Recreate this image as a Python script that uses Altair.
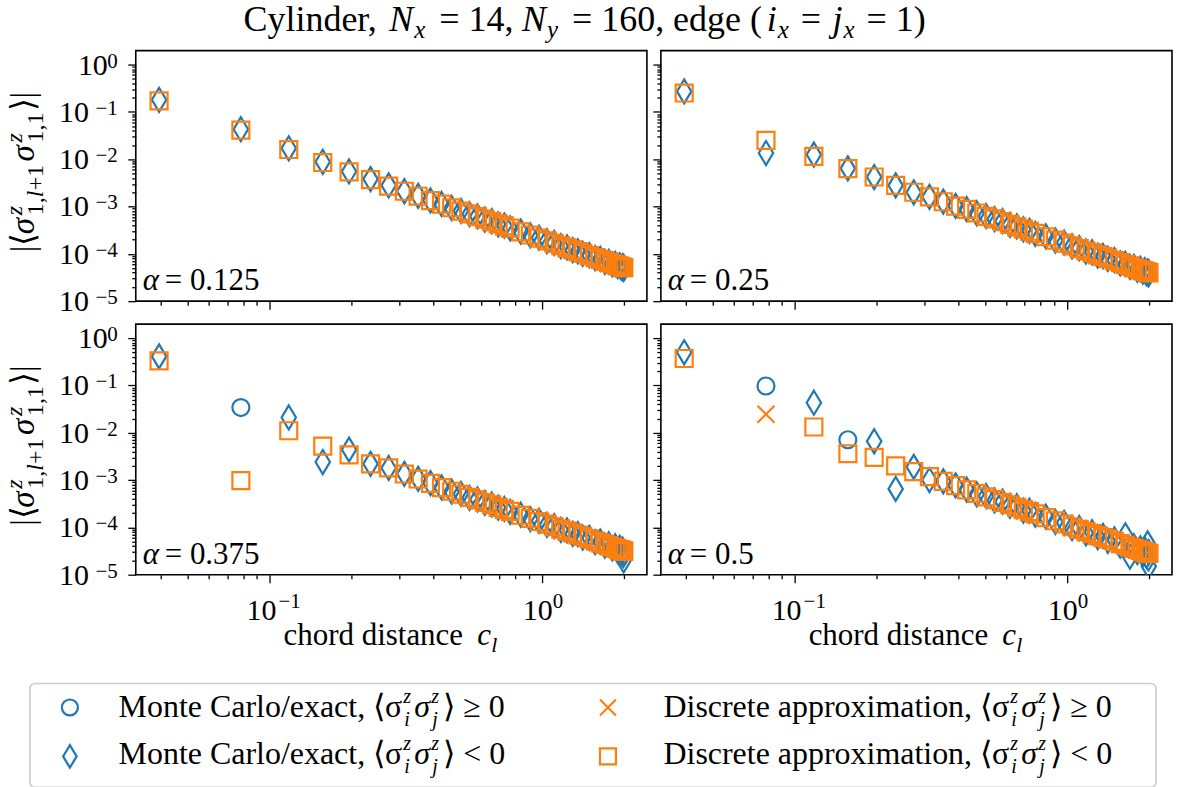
import altair as alt
import pandas as pd

# ---------------- data ----------------
# chord distances c_l (sampled l values)
X = [0.0393, 0.0785, 0.1177, 0.1569, 0.1960, 0.2351, 0.2740, 0.3129, 0.3516, 0.3902,
     0.4286, 0.4669, 0.5050, 0.5429, 0.5806, 0.6180, 0.6553, 0.6922, 0.7289, 0.7654,
     0.8373, 0.9080, 0.9772, 1.0450, 1.1111, 1.1756, 1.2382, 1.2989, 1.3576, 1.4142,
     1.4951, 1.5706, 1.6408, 1.7053, 1.7638, 1.8163, 1.8624, 1.9021, 1.9352, 1.9616,
     1.9812, 1.9938, 1.9996, 2.0]

ALPHAS = ["0.125", "0.25", "0.375", "0.5"]

# signed correlations <s_i s_j>; Monte Carlo / exact
MC1 = [-0.18, -0.043, -0.017, -0.0088, -0.0055, -0.0038, -0.0028, -0.0021, -0.00168, -0.00134,
       -1.13e-3, -9.3e-4, -8.1e-4, -6.9e-4, -6.2e-4, -5.3e-4, -4.9e-4, -4.2e-4, -3.95e-4, -3.45e-4,
       -2.95e-4, -2.45e-4, -2.2e-4, -1.85e-4, -1.7e-4, -1.45e-4, -1.37e-4, -1.2e-4, -1.13e-4, -1.0e-4,
       -9.4e-5, -8.1e-5, -7.8e-5, -6.8e-5, -6.8e-5, -6.0e-5, -6.1e-5, -5.5e-5, -5.7e-5, -5.1e-5,
       -5.4e-5, -4.9e-5, -5.3e-5, -4.8e-5]
MC2 = [-0.27, -0.0135, -0.0125, -0.0064, -0.0042, -0.0028, -0.0020, -0.0016, -0.00127, -0.00103,
       -8.8e-4, -7.2e-4, -6.3e-4, -5.4e-4, -4.9e-4, -4.1e-4, -3.8e-4, -3.3e-4, -3.05e-4, -2.65e-4,
       -2.35e-4, -1.9e-4, -1.72e-4, -1.44e-4, -1.32e-4, -1.12e-4, -1.08e-4, -9.2e-5, -9.0e-5, -7.8e-5,
       -7.4e-5, -6.3e-5, -6.1e-5, -5.3e-5, -5.3e-5, -4.6e-5, -4.8e-5, -4.2e-5, -4.5e-5, -3.9e-5,
       -4.2e-5, -3.7e-5, -4.1e-5, -3.8e-5]
MC3 = [-0.41, 0.034, -0.021, -0.0024, -0.0044, -0.0022, -0.0018, -0.00135, -0.00106, -0.00086,
       -7.0e-4, -5.7e-4, -5.1e-4, -4.2e-4, -3.9e-4, -3.3e-4, -3.05e-4, -2.6e-4, -2.45e-4, -2.12e-4,
       -1.85e-4, -1.5e-4, -1.37e-4, -1.13e-4, -1.06e-4, -8.9e-5, -8.6e-5, -7.3e-5, -7.2e-5, -6.1e-5,
       -6.0e-5, -4.9e-5, -5.0e-5, -4.1e-5, -4.4e-5, -3.6e-5, -4.0e-5, -3.2e-5, -3.7e-5, -2.9e-5,
       -3.4e-5, -2.6e-5, -2.8e-5, -2.0e-5]
MC4 = [-0.5, 0.097, -0.043, 0.0071, -0.0066, -0.00065, -0.0019, -0.0010, -0.00094, -0.00077,
       -6.3e-4, -5.0e-4, -4.6e-4, -3.7e-4, -3.5e-4, -2.85e-4, -2.8e-4, -2.25e-4, -2.25e-4, -1.85e-4,
       -1.68e-4, -1.3e-4, -1.25e-4, -9.6e-5, -9.7e-5, -7.5e-5, -7.9e-5, -6.2e-5, -6.6e-5, -5.2e-5,
       -5.6e-5, -4.1e-5, -6.8e-5, -2.4e-5, -4.0e-5, -3.0e-5, -3.6e-5, -2.7e-5, -3.4e-5, -2.5e-5,
       -4.6e-5, -2.2e-5, -3.0e-5, -1.5e-5]

# discrete approximation
D1 = [-0.17, -0.041, -0.016, -0.0085, -0.0054, -0.0037, -0.0027, -0.0021, -0.00165, -0.00133,
      -1.12e-3, -9.4e-4, -8.0e-4, -7.0e-4, -6.1e-4, -5.4e-4, -4.8e-4, -4.3e-4, -3.9e-4, -3.5e-4,
      -2.9e-4, -2.5e-4, -2.15e-4, -1.88e-4, -1.66e-4, -1.48e-4, -1.34e-4, -1.22e-4, -1.11e-4, -1.03e-4,
      -9.2e-5, -8.3e-5, -7.6e-5, -7.0e-5, -6.6e-5, -6.2e-5, -5.9e-5, -5.7e-5, -5.5e-5, -5.3e-5,
      -5.2e-5, -5.15e-5, -5.1e-5, -5.1e-5]
D2 = [-0.25, -0.025, -0.0115, -0.0063, -0.0042, -0.0028, -0.0020, -0.0016, -0.00126, -0.00102,
      -8.7e-4, -7.3e-4, -6.2e-4, -5.5e-4, -4.8e-4, -4.2e-4, -3.7e-4, -3.35e-4, -3.0e-4, -2.7e-4,
      -2.3e-4, -1.95e-4, -1.68e-4, -1.47e-4, -1.29e-4, -1.15e-4, -1.05e-4, -9.5e-5, -8.7e-5, -8.0e-5,
      -7.2e-5, -6.5e-5, -5.9e-5, -5.5e-5, -5.1e-5, -4.8e-5, -4.6e-5, -4.45e-5, -4.3e-5, -4.15e-5,
      -4.05e-5, -4.0e-5, -4.0e-5, -4.0e-5]
D3 = [-0.33, -0.00097, -0.011, -0.0052, -0.0034, -0.0022, -0.0018, -0.00134, -0.00105, -0.00085,
      -6.9e-4, -5.8e-4, -5.0e-4, -4.3e-4, -3.8e-4, -3.35e-4, -3.0e-4, -2.65e-4, -2.4e-4, -2.17e-4,
      -1.8e-4, -1.55e-4, -1.33e-4, -1.17e-4, -1.03e-4, -9.2e-5, -8.3e-5, -7.6e-5, -6.9e-5, -6.4e-5,
      -5.7e-5, -5.15e-5, -4.7e-5, -4.35e-5, -4.1e-5, -3.85e-5, -3.65e-5, -3.5e-5, -3.4e-5, -3.3e-5,
      -3.22e-5, -3.2e-5, -3.16e-5, -3.16e-5]
D4 = [-0.37, 0.0245, -0.0132, -0.0036, -0.0030, -0.0020, -0.0015, -0.00118, -0.00094, -0.00076,
      -6.2e-4, -5.2e-4, -4.4e-4, -3.85e-4, -3.35e-4, -3.0e-4, -2.65e-4, -2.37e-4, -2.15e-4, -1.93e-4,
      -1.6e-4, -1.38e-4, -1.18e-4, -1.03e-4, -9.1e-5, -8.1e-5, -7.4e-5, -6.7e-5, -6.1e-5, -5.7e-5,
      -5.05e-5, -4.55e-5, -4.2e-5, -3.85e-5, -3.6e-5, -3.4e-5, -3.25e-5, -3.1e-5, -3.0e-5, -2.9e-5,
      -2.85e-5, -2.82e-5, -2.8e-5, -2.8e-5]

MC = [MC1, MC2, MC3, MC4]
DISC = [D1, D2, D3, D4]

CAT_MCP = "Monte Carlo/exact, <σσ> ≥ 0"
CAT_MCN = "Monte Carlo/exact, <σσ> < 0"
CAT_DP = "Discrete approximation, <σσ> ≥ 0"
CAT_DN = "Discrete approximation, <σσ> < 0"
CATS = [CAT_MCP, CAT_MCN, CAT_DP, CAT_DN]

# legend label pieces (column head, relation)
LEG_HEADS = ["Monte Carlo/exact, ⟨σ", "Discrete approximation, ⟨σ"]
LEG_RELS = ["⟩ ≥ 0", "⟩ < 0"]

# tick labels (decades): value and exponent text
Y_DEC = [1.0, 0.1, 0.01, 0.001, 0.0001, 0.00001]
Y_EXP = ["0", "−1", "−2", "−3", "−4", "−5"]
X_DEC = [0.1, 1.0]
X_EXP = ["−1", "0"]

# ---------------- styling ----------------
BLUE = "#1f77b4"
ORANGE = "#ff7f0e"
FONT = "Liberation Serif"
W, H = 512, 251
XDOM = [0.03227, 2.4343]
YDOM = [1e-5, 1.97]

THIN_DIAMOND = "M0,-1.414L0.849,0L0,1.414L-0.849,0Z"
XMARK = "M-1,-1L1,1M-1,1L1,-1"

rows = []
for p in range(4):
    for x, v in zip(X, MC[p]):
        rows.append({"panel": p, "x": x, "y": abs(v), "cat": CAT_MCP if v >= 0 else CAT_MCN})
    for x, v in zip(X, DISC[p]):
        rows.append({"panel": p, "x": x, "y": abs(v), "cat": CAT_DP if v >= 0 else CAT_DN})
df = pd.DataFrame(rows)
DUMMY = pd.DataFrame({"d": [0]})
ylab = pd.DataFrame({"y": Y_DEC, "e": Y_EXP})
xlab = pd.DataFrame({"x": X_DEC, "e": X_EXP})

XTICKS = [0.04, 0.05, 0.06, 0.07, 0.08, 0.09, 0.1, 0.2, 0.3, 0.4, 0.5, 0.6, 0.7, 0.8, 0.9, 1.0, 2.0]
YTICKS = [float(f"{k}e{e}") for e in range(-5, 1) for k in range(1, 10) if float(f"{k}e{e}") <= 1.0]

LG = "round(log(datum.value)/LN10)"
ISDEC = f"abs(log(datum.value)/LN10 - {LG}) < 0.001"
TICKSIZE = {"condition": {"test": ISDEC, "value": 8}, "value": 4}

XSCALE = alt.Scale(type="log", domain=XDOM, nice=False)
YSCALE = alt.Scale(type="log", domain=YDOM, nice=False)
XAXIS = alt.Axis(values=XTICKS, labels=False, tickSize=TICKSIZE, tickColor="black", tickWidth=1.3,
                 domain=False, grid=False, title=None)
YAXIS = alt.Axis(values=YTICKS, labels=False, tickSize=TICKSIZE, tickColor="black", tickWidth=1.3,
                 domain=False, grid=False, title=None)

LEG = alt.Legend(
    title=None, orient="none", legendX=-106, legendY=632, columns=2, gridAlign="each",
    labelExpr="''", labelFontSize=32,
    symbolSize=256, symbolStrokeWidth=2.2, labelOffset=37, columnPadding=456,
    rowPadding=17, padding=10, symbolOffset=14,
)


def seg(txt, x, y, size=31, italic=False, angle=0, align="left"):
    return alt.Chart(DUMMY).mark_text(
        text=txt, font=FONT, fontSize=size, fontStyle="italic" if italic else "normal",
        angle=angle, align=align, baseline="alphabetic", color="black",
    ).encode(x=alt.value(x), y=alt.value(y))


def ylabels():
    out = []
    for sel, x10 in ((ylab.e == "0", -28), (ylab.e != "0", -47)):
        d = ylab[sel]
        out.append(alt.Chart(d).mark_text(text="10", font=FONT, fontSize=30, align="right",
                                          baseline="alphabetic", dy=10, color="black").encode(
            y=alt.Y("y:Q", scale=YSCALE, axis=YAXIS), x=alt.value(x10)))
    out.append(alt.Chart(ylab).mark_text(font=FONT, fontSize=21, align="right",
                                         baseline="alphabetic", dy=3, color="black").encode(
        y=alt.Y("y:Q", scale=YSCALE, axis=YAXIS), x=alt.value(-18), text="e:N"))
    return out


def xlabels():
    out = []
    for sel, dx10, dxe in ((xlab.e == "0", 11, 11), (xlab.e != "0", 7, 9)):
        d = xlab[sel]
        out.append(alt.Chart(d).mark_text(text="10", font=FONT, fontSize=30, align="right",
                                          baseline="alphabetic", dx=dx10, color="black").encode(
            x=alt.X("x:Q", scale=XSCALE, axis=XAXIS), y=alt.value(H + 45)))
        out.append(alt.Chart(d).mark_text(font=FONT, fontSize=21, align="left",
                                          baseline="alphabetic", dx=dxe, color="black").encode(
            x=alt.X("x:Q", scale=XSCALE, axis=XAXIS), y=alt.value(H + 33), text="e:N"))
    return out


def panel(p, extra):
    sub = df[df.panel == p]
    pts = alt.Chart(sub).mark_point(filled=False, strokeWidth=2.2, opacity=1, clip=True).encode(
        x=alt.X("x:Q", scale=XSCALE, axis=XAXIS),
        y=alt.Y("y:Q", scale=YSCALE, axis=YAXIS),
        color=alt.Color("cat:N", scale=alt.Scale(domain=CATS, range=[BLUE, BLUE, ORANGE, ORANGE]), legend=LEG),
        shape=alt.Shape("cat:N", scale=alt.Scale(domain=CATS, range=["circle", THIN_DIAMOND, XMARK, "square"]), legend=LEG),
        size=alt.value(289),
    )
    layers = [pts,
              seg("α", 7, 240, italic=True),
              seg("= " + ALPHAS[p], 29, 240)]
    layers += extra
    return alt.layer(*layers).properties(width=W, height=H)


def ytitle():
    m, s = 33, 24
    return [
        seg("|⟨", -102, 202, size=m, angle=270),
        seg("σ", -102, 184, size=m, italic=True, angle=270),
        seg("z", -114, 165, size=s, italic=True, angle=270),
        seg("1,", -93, 165, size=s, angle=270),
        seg("l", -93, 147, size=s, italic=True, angle=270),
        seg("+1", -93, 140, size=s, angle=270),
        seg("σ", -102, 111, size=m, italic=True, angle=270),
        seg("z", -114, 92, size=s, italic=True, angle=270),
        seg("1,1", -93, 92, size=s, angle=270),
        seg("⟩|", -102, 61, size=m, angle=270),
    ]


def xtitle():
    return [
        seg("chord distance", 148, 321),
        seg("c", 342, 321, italic=True),
        seg("l", 356, 328, size=22, italic=True),
    ]


def legend_labels():
    out = []
    LS, SS = 32, 20
    for col, xe in ((0, 267), (1, 875)):
        for row, base in ((0, 668), (1, 715)):
            out += [
                seg(LEG_HEADS[col], xe, base, size=LS, align="right"),
                seg("z", xe + 1, base - 14, size=SS, italic=True),
                seg("i", xe + 2, base + 9, size=SS, italic=True),
                seg("σ", xe + 12, base, size=LS, italic=True),
                seg("z", xe + 29, base - 14, size=SS, italic=True),
                seg("j", xe + 30, base + 9, size=SS, italic=True),
                seg(LEG_RELS[row], xe + 41, base, size=LS),
            ]
    return out


anchor = alt.Chart(DUMMY).mark_rect(opacity=0).encode(
    x=alt.value(-135), x2=alt.value(1042), y=alt.value(-48), y2=alt.value(739))
frame = alt.Chart(DUMMY).mark_rect(fill="white", stroke="#cccccc", strokeWidth=1.6, cornerRadius=5).encode(
    x=alt.value(-106), x2=alt.value(1022), y=alt.value(634), y2=alt.value(738))

TS, TSS = 36, 25
TY, TYS = -20, -13
title = [
    seg("Cylinder,", 108, TY, size=TS),
    seg("N", 254, TY, size=TS, italic=True),
    seg("x", 279, TYS, size=TSS, italic=True),
    seg("= 14,", 304, TY, size=TS),
    seg("N", 387, TY, size=TS, italic=True),
    seg("y", 412, TYS, size=TSS, italic=True),
    seg("= 160, edge (", 437, TY, size=TS),
    seg("i", 632, TY, size=TS, italic=True),
    seg("x", 643, TYS, size=TSS, italic=True),
    seg("=", 666, TY, size=TS),
    seg("j", 698, TY, size=TS, italic=True),
    seg("x", 709, TYS, size=TSS, italic=True),
    seg("= 1)", 732, TY, size=TS),
]

TL = panel(0, [anchor, frame] + title + ytitle() + ylabels() + legend_labels())
TR = panel(1, [])
BL = panel(2, ytitle() + xtitle() + ylabels() + xlabels())
BR = panel(3, xtitle() + xlabels())

chart = alt.concat(TL, TR, BL, BR, columns=2, spacing={"row": 23, "column": 14},
                   bounds="flush").properties(
    padding=0, background="white"
).configure_view(stroke="black", strokeWidth=1.6)

chart.save("out.html", embed_options={"renderer": "svg", "actions": False})
